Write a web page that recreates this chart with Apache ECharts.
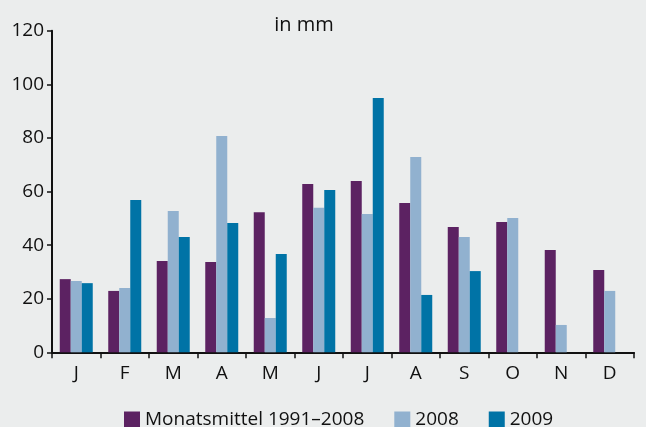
<!DOCTYPE html>
<html>
<head>
<meta charset="utf-8">
<script src="https://cdn.jsdelivr.net/npm/echarts@6/dist/echarts.min.js"></script>
<style>
  html, body { margin: 0; padding: 0; background: #ebeded; }
  #chart { width: 646px; height: 427px; }
</style>
</head>
<body>
<div id="chart"></div>
<script>
// Monate
const months = ["J", "F", "M", "A", "M", "J", "J", "A", "S", "O", "N", "D"];
// Niederschlag in mm
const mittel = [27.3, 22.9, 34.1, 33.7, 52.3, 62.8, 63.9, 55.7, 46.8, 48.6, 38.2, 30.7];
const y2008 = [26.6, 24.0, 52.7, 80.7, 12.8, 53.9, 51.6, 72.9, 43.0, 50.1, 10.2, 22.9];
const y2009 = [25.8, 56.8, 43.0, 48.2, 36.7, 60.6, 94.9, 21.4, 30.3, null, null, null];
const yTicks = [0, 20, 40, 60, 80, 100, 120];

const font = "'Open Sans', 'Noto Sans', sans-serif";

let myChart = echarts.init(document.getElementById("chart"), null, { renderer: "canvas" });
let option = {
  backgroundColor: "#ebeded",
  color: ["#5c2262", "#91b1cf", "#0073a6"],
  animation: false,
  title: {
    text: "in mm",
    left: 299,
    top: 10,
    textAlign: "center",
    textStyle: { fontFamily: font, fontSize: 20, fontWeight: "normal", color: "#111" },
  },
  legend: {
    left: 119,
    top: 405,
    itemWidth: 16,
    itemHeight: 16,
    itemGap: 30,
    icon: "rect",
    textStyle: { fontFamily: font, fontSize: 19, color: "#111" },
    data: ["Monatsmittel 1991–2008", "2008", "2009"],
  },
  grid: { left: 52, right: 12, top: 30.7, bottom: 74.7 },
  xAxis: {
    type: "category",
    data: months,
    axisLine: { lineStyle: { color: "#111", width: 2 } },
    axisTick: { show: true, length: 6, lineStyle: { color: "#111", width: 1.5 } },
    axisLabel: { fontFamily: font, fontSize: 19, color: "#111", margin: 12 },
  },
  yAxis: {
    type: "value",
    min: yTicks[0],
    max: yTicks[yTicks.length - 1],
    interval: 20,
    splitLine: { show: false },
    axisLine: { show: true, lineStyle: { color: "#111", width: 2 } },
    axisTick: { show: true, length: 5, lineStyle: { color: "#111", width: 1.5 } },
    axisLabel: { fontFamily: font, fontSize: 19, color: "#111", margin: 8 },
  },
  series: [
    { name: "Monatsmittel 1991–2008", type: "bar", data: mittel, barWidth: 11, barGap: "0%" },
    { name: "2008", type: "bar", data: y2008, barWidth: 11, barGap: "0%" },
    { name: "2009", type: "bar", data: y2009, barWidth: 11, barGap: "0%" },
  ],
};
myChart.setOption(option);
</script>
</body>
</html>
